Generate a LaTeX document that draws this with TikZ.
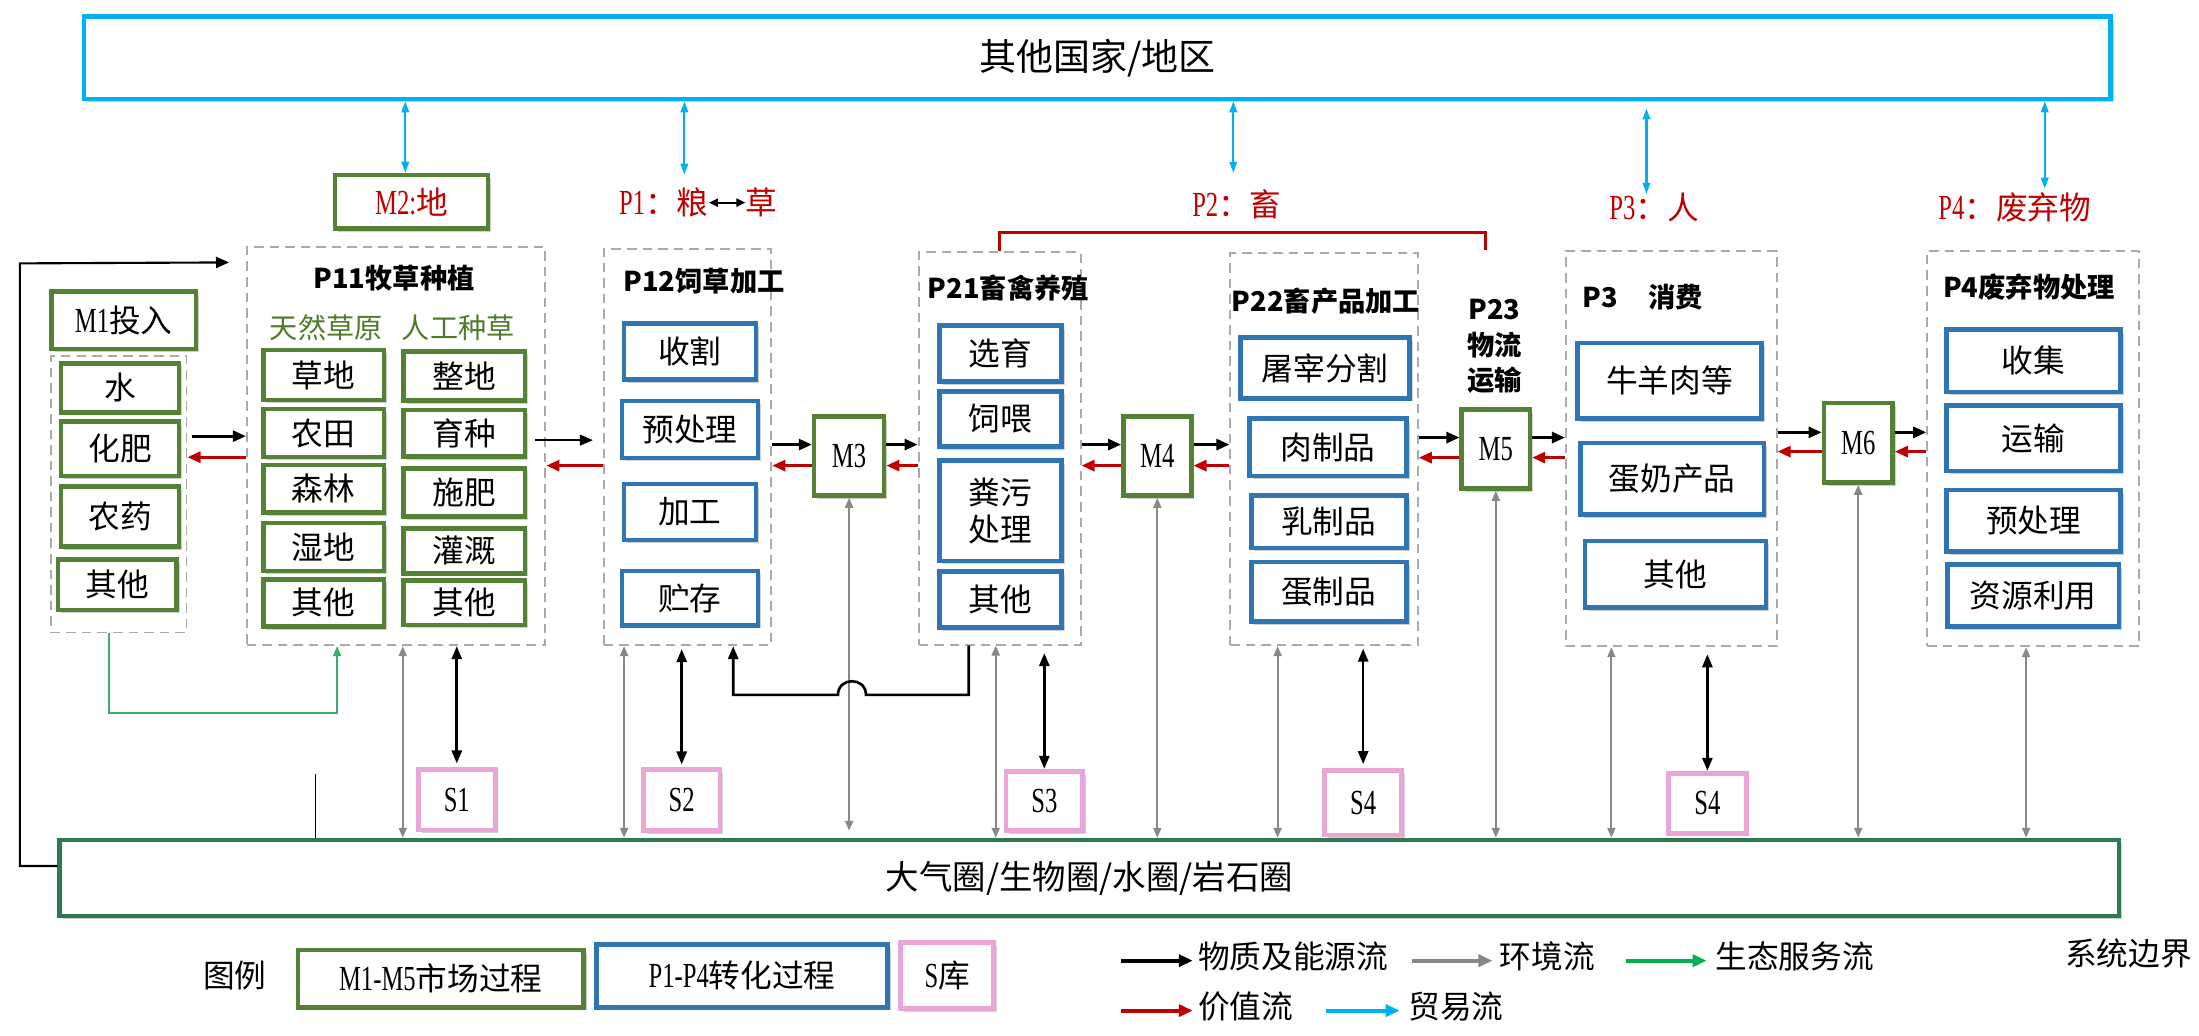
\documentclass[tikz,border=0pt]{standalone}
\usepackage{fontspec}
\setmainfont{Noto Sans CJK SC}
\newfontfamily\lat[FakeStretch=0.7]{Liberation Serif}
\usetikzlibrary{arrows.meta,fit,calc,shadows}
\definecolor{mgreen}{RGB}{84,130,53}
\definecolor{pblue}{RGB}{46,117,182}
\definecolor{spink}{RGB}{232,165,214}
\definecolor{tcyan}{RGB}{0,176,240}
\definecolor{vred}{RGB}{192,0,0}
\definecolor{egray}{RGB}{136,136,136}
\definecolor{dgray}{RGB}{170,170,170}
\definecolor{bgreen}{RGB}{46,122,80}
\definecolor{ecog}{RGB}{60,172,115}
\definecolor{leco}{RGB}{0,176,80}
\definecolor{tgreen}{RGB}{78,122,42}
\newcommand\itm{\fontsize{18pt}{21pt}\selectfont}
\newcommand\legf{\fontsize{18pt}{21pt}\selectfont}
\newcommand\ttl{\bfseries\fontsize{15.5pt}{20pt}\selectfont}
\newcommand\latn[1]{{\lat\fontsize{20pt}{22pt}\selectfont #1}}
% box by corners: style, name, x1, y1, x2, y2, text
\newcommand\bx[7]{\node[#1, minimum width={(#5-#3)*0.28mm}, minimum height={(#6-#4)*0.28mm}] (#2) at ({(#3+#5)/2},{(#4+#6)/2}) {#7};}
\begin{document}
\begin{tikzpicture}[x=0.28mm,y=-0.28mm,
  box/.style={inner sep=0pt, fill=white, line width=2.6pt, font=\itm, align=center,
    drop shadow={shadow xshift=1.8pt,shadow yshift=-1.8pt,opacity=0.3,fill=black!60}},
  gbox/.style={box,draw=mgreen},
  bbox/.style={box,draw=pblue},
  sbox/.style={box,draw=spink,line width=2.8pt},
  dbox/.style={inner sep=0pt,draw=dgray,line width=1.1pt,dash pattern=on 1.9mm off 1.2mm},
  ttlnode/.style={inner sep=0pt,font=\ttl,align=center},
  lbl/.style={inner sep=0pt,font=\itm},
  mat/.style={line width=1.6pt,-{Triangle[length=2.6mm,width=2.2mm]}},
  matthin/.style={line width=0.7pt,-{Triangle[length=2.6mm,width=2.2mm]}},
  val/.style={vred,line width=1.6pt,-{Triangle[length=2.6mm,width=2.2mm]}},
  env/.style={egray,line width=1.2pt,{Triangle[length=2mm,width=1.6mm]}-{Triangle[length=2mm,width=1.6mm]}},
  stor/.style={line width=1.5pt,{Triangle[length=2.6mm,width=2mm]}-{Triangle[length=2.6mm,width=2mm]}},
  trade/.style={tcyan,line width=1.2pt,{Triangle[length=2.2mm,width=1.5mm]}-{Triangle[length=2.2mm,width=1.5mm]}},
  eco/.style={ecog,line width=1pt,-{Triangle[length=2mm,width=1.6mm]}},
  leg/.style={line width=2.3pt,-{Triangle[length=2.8mm,width=2.4mm]}},
]
\fill[white] (0,0) rectangle (1568,738.7);
\useasboundingbox (0,0) rectangle (1568,738.7);

% top and bottom boxes
\bx{box, draw=tcyan, font=\fontsize{21pt}{24pt}\selectfont}{top}{60}{11.9}{1505}{70.6}{其他国家/地区}
\bx{box, draw=bgreen, font=\fontsize{19pt}{22pt}\selectfont}{big}{42.6}{599}{1511}{653}{大气圈/生物圈/水圈/岩石圈}

% dashed process boxes
\node[dbox, fit={(36.3,254) (133,451)}] (m1d) {};
\node[dbox, fit={(176,176.3) (388.9,460)}] (P11) {};
\node[dbox, fit={(430.4,177.5) (550,460)}] (P12) {};
\node[dbox, fit={(655,180) (770.5,459.6)}] (P21) {};
\node[dbox, fit={(877.3,180.7) (1011,460)}] (P22) {};
\node[dbox, fit={(1116.6,179) (1266.8,460.8)}] (P3) {};
\node[dbox, fit={(1374.2,179) (1525.3,460.8)}] (P4) {};

% labels above
\bx{gbox, text=vred}{M2}{239}{124.8}{348}{163}{\latn{M2:}地}
\node[lbl, anchor=east, text=vred] (P1a) at (505.5,144.5) {\latn{P1}：粮};
\node[lbl, anchor=west, text=vred] (P1b) at (531.5,144.5) {草};
\node[lbl, text=vred] (P2l) at (882,145.7) {\latn{P2}：畜};
\node[lbl, text=vred] (P3l) at (1179.5,148.2) {\latn{P3}：人};
\node[lbl, text=vred] (P4l) at (1436.7,148.2) {\latn{P4}：废弃物};

% M1
\bx{gbox}{M1}{36.8}{208}{139.7}{248.9}{\latn{M1}投入}
\bx{gbox}{w1}{43.6}{259}{127.7}{294}{水}
\bx{gbox}{w2}{43.6}{300.6}{127.7}{339.4}{化肥}
\bx{gbox}{w3}{43.6}{347}{127.7}{389.8}{农药}
\bx{gbox}{w4}{41.5}{399}{126}{435}{其他}

% P11
\node[ttlnode] (P11t) at (281,198) {P11牧草种植};
\node[lbl, text=tgreen, font=\fontsize{16pt}{19pt}\selectfont] (tr) at (232.6,234) {天然草原};
\node[lbl, text=tgreen, font=\fontsize{16pt}{19pt}\selectfont] (rg) at (326.7,234) {人工种草};
\bx{gbox}{a1}{187.7}{249.6}{273.7}{285.2}{草地}
\bx{gbox}{a2}{187.7}{291.7}{273.7}{325.8}{农田}
\bx{gbox}{a3}{187.7}{331.6}{273.7}{365.5}{森林}
\bx{gbox}{a4}{187.7}{373}{273.7}{407}{湿地}
\bx{gbox}{a5}{187.7}{413}{273.7}{446.8}{其他}
\bx{gbox}{b1}{287.9}{250.7}{374.4}{285.7}{整地}
\bx{gbox}{b2}{287.9}{292.3}{374.4}{325.6}{育种}
\bx{gbox}{b3}{287.9}{333.9}{374.4}{368.4}{施肥}
\bx{gbox}{b4}{287.9}{376.7}{374.4}{408.8}{灌溉}
\bx{gbox}{b5}{287.9}{414}{374.4}{445.6}{其他}

% P12
\node[ttlnode] (P12t) at (502,200.7) {P12饲草加工};
\bx{bbox}{c1}{445}{230.7}{539}{270.7}{收割}
\bx{bbox}{c2}{443.5}{285.8}{540.5}{326.5}{预处理}
\bx{bbox}{c3}{445}{345}{539}{385}{加工}
\bx{bbox}{c4}{443.5}{407}{540.5}{445.8}{贮存}

\bx{gbox}{M3}{580.5}{297}{630.4}{353.3}{\latn{M3}}

% P21
\node[ttlnode] (P21t) at (719,205.7) {P21畜禽养殖};
\bx{bbox}{d1}{670}{232}{756.8}{272}{选育}
\bx{bbox}{d2}{670}{279}{756.8}{318.3}{饲喂}
\bx{bbox}{d3}{670}{328.3}{756.8}{400}{粪污\\处理}
\bx{bbox}{d4}{670}{407.5}{756.8}{447.6}{其他}

\bx{gbox}{M4}{801}{297}{849.4}{353.3}{\latn{M4}}

% P22
\node[ttlnode] (P22t) at (945.5,214.5) {P22畜产品加工};
\bx{bbox}{e1}{884.6}{240.8}{1005}{284}{屠宰分割}
\bx{bbox}{e2}{890.9}{298.3}{1002.8}{339.5}{肉制品}
\bx{bbox}{e3}{892.2}{353.3}{1002.8}{390.8}{乳制品}
\bx{bbox}{e4}{892.2}{400.8}{1002.8}{443.3}{蛋制品}

\node[ttlnode] (P23t) at (1065.5,247) {P23\\物流\\运输};
\bx{gbox}{M5}{1042.3}{292}{1090.9}{348.3}{\latn{M5}}

% P3
\node[ttlnode, anchor=west] (P3t) at (1128.3,212) {P3\hspace{1.1em}消费};
\bx{bbox}{f1}{1124.8}{244.5}{1256}{298.3}{牛羊肉等}
\bx{bbox}{f2}{1126.9}{315.8}{1257.8}{367}{蛋奶产品}
\bx{bbox}{f3}{1130.2}{385.8}{1259.2}{433.3}{其他}

\bx{gbox}{M6}{1300.5}{287.5}{1349.5}{344}{\latn{M6}}

% P4
\node[ttlnode] (P4t) at (1446.8,204.5) {P4废弃物处理};
\bx{bbox}{h1}{1388}{235}{1512}{279.5}{收集}
\bx{bbox}{h2}{1388}{289}{1512}{335.8}{运输}
\bx{bbox}{h3}{1388}{349.5}{1512}{393.3}{预处理}
\bx{bbox}{h4}{1388.6}{402.6}{1511}{446.6}{资源利用}

% stores
\bx{sbox}{S1}{298.4}{549}{353}{591.8}{\latn{S1}}
\bx{sbox}{S2}{458.8}{549}{513.4}{592.3}{\latn{S2}}
\bx{sbox}{S3}{717.3}{550}{772}{592.3}{\latn{S3}}
\bx{sbox}{S4a}{944.7}{549.5}{999.3}{595.4}{\latn{S4}}
\bx{sbox}{S4b}{1189.9}{551.4}{1245}{594.1}{\latn{S4}}

% trade flows
\coordinate (cM2) at (289,0);
\coordinate (cP1) at (488,124.5);
\coordinate (cP2) at (879.4,123.2);
\coordinate (cP3) at (1174,138.2);
\coordinate (cP4) at (1458,134.5);
\draw[trade] (top.south -| cM2) -- (M2.north -| cM2);
\draw[trade] (top.south -| cP1) -- (cP1);
\draw[trade] (top.south -| cP2) -- (cP2);
\draw[trade, shorten <=1.4mm] (top.south -| cP3) -- (cP3);
\draw[trade] (top.south -| cP4) -- (cP4);
\draw[line width=1.2pt,{Triangle[length=1.8mm,width=1.6mm]}-{Triangle[length=1.8mm,width=1.6mm]}] (P1a.east) -- (P1b.west);

% red bracket P2
\coordinate (rtop) at (0,165.7);
\coordinate (rb) at (1059.5,178.2);
\draw[vred, line width=1.6pt] (P21.north) -- (P21.north |- rtop) -| (rb);

% horizontal flows
\coordinate (rA1) at (0,311);   \coordinate (rA2) at (0,326);
\coordinate (rB1) at (0,313.8); \coordinate (rB2) at (0,332);
\coordinate (rC1) at (0,317);   \coordinate (rC2) at (0,332);
\coordinate (rD1) at (0,312);   \coordinate (rD2) at (0,326.3);
\coordinate (rE1) at (0,308.3); \coordinate (rE2) at (0,322);
\draw[mat] ($(m1d.east |- rA1)+(3,0)$) -- (P11.west |- rA1);
\draw[val] (P11.west |- rA2) -- (m1d.east |- rA2);
\draw[matthin] ($(P11.east |- rB1)+(-8,0)$) -- ($(P12.west |- rB1)+(-7,0)$);
\draw[val] (P12.west |- rB2) -- (P11.east |- rB2);
\draw[mat] (P12.east |- rC1) -- (M3.west |- rC1);
\draw[val] (M3.west |- rC2) -- (P12.east |- rC2);
\draw[mat] (M3.east |- rC1) -- (P21.west |- rC1);
\draw[val] (P21.west |- rC2) -- (M3.east |- rC2);
\draw[mat] (P21.east |- rC1) -- (M4.west |- rC1);
\draw[val] (M4.west |- rC2) -- (P21.east |- rC2);
\draw[mat] (M4.east |- rC1) -- (P22.west |- rC1);
\draw[val] (P22.west |- rC2) -- (M4.east |- rC2);
\draw[mat] (P22.east |- rD1) -- (M5.west |- rD1);
\draw[val] (M5.west |- rD2) -- (P22.east |- rD2);
\draw[mat] (M5.east |- rD1) -- (P3.west |- rD1);
\draw[val] (P3.west |- rD2) -- (M5.east |- rD2);
\draw[mat] (P3.east |- rE1) -- (M6.west |- rE1);
\draw[val] (M6.west |- rE2) -- (P3.east |- rE2);
\draw[mat] (M6.east |- rE1) -- (P4.west |- rE1);
\draw[val] (P4.west |- rE2) -- (M6.east |- rE2);

% loop from the spheres to P11
\coordinate (L1) at (14.2,617.5);
\coordinate (L2) at (14.2,187.8);
\draw[line width=1.2pt,-{Triangle[length=2.6mm,width=2.2mm]}] ($(big.west)+(0,-8.5)$) -- (L1) -- (L2) -- ($(P11.north west)+(-12,11.5)$);

% ecosystem service flow
\coordinate (G1) at (240.4,508.6);
\draw[eco] ($(m1d.south)+(-7,0)$) |- (G1) -- (P11.south -| G1);

% thin line
\coordinate (T1) at (225,552);
\draw[line width=0.6pt] (T1) -- (big.north -| T1);

% environment flows
\coordinate (g11) at (287.2,0);
\coordinate (g12) at (445,0);
\coordinate (g21) at (710,0);
\coordinate (g22) at (911,0);
\coordinate (g3) at (1149,0);
\coordinate (g4) at (1444.7,0);
\draw[env] (P11.south -| g11) -- (big.north -| g11);
\draw[env] (P12.south -| g12) -- (big.north -| g12);
\draw[env, shorten >=1.4mm] (M3.south) -- (big.north -| M3.south);
\draw[env] (P21.south -| g21) -- (big.north -| g21);
\draw[env] (M4.south) -- (big.north -| M4.south);
\draw[env] (P22.south -| g22) -- (big.north -| g22);
\draw[env] (M5.south) -- (big.north -| M5.south);
\draw[env] (P3.south -| g3) -- (big.north -| g3);
\draw[env] (M6.south) -- (big.north -| M6.south);
\draw[env] (P4.south -| g4) -- (big.north -| g4);

% store flows
\draw[stor, shorten >=0.8mm] (P11.south -| S1.north) -- (S1.north);
\draw[stor, shorten <=0.6mm, shorten >=0.6mm] (P12.south -| S2.north) -- (S2.north);
\draw[stor, shorten <=1.5mm] (P21.south -| S3.north) -- (S3.north);
\draw[stor, shorten <=0.5mm, shorten >=0.8mm] (P22.south -| S4a.north) -- (S4a.north);
\draw[stor, shorten <=1.4mm] (P3.south -| S4b.north) -- (S4b.north);

% manure/feed return line with hop
\coordinate (cv1) at (690.8,495.5);
\coordinate (hopR) at (617.5,495.5);
\coordinate (hopL) at (597.5,495.5);
\coordinate (cv2) at (522.8,495.5);
\draw[line width=1.5pt,-{Triangle[length=2.6mm,width=2mm]}] (P21.south -| cv1) -- (cv1) -- (hopR) .. controls ($(hopR)+(0,-13)$) and ($(hopL)+(0,-13)$) .. (hopL) -- (cv2) -- (P12.south -| cv2);

% legend
\node[inner sep=0pt, font=\legf] (lg) at (167.4,695.9) {图例};
\bx{gbox, font=\legf}{lgM}{212.6}{677.4}{416}{718.2}{\latn{M1-M5}市场过程}
\bx{bbox, font=\legf}{lgP}{425.4}{673.3}{633}{718.2}{\latn{P1-P4}转化过程}
\bx{sbox, font=\legf}{lgS}{642.3}{672.1}{708.6}{719}{\latn{S}库}
\coordinate (la1) at (799.5,685);   \coordinate (la2) at (850.5,685);
\coordinate (lb1) at (1006.7,685);  \coordinate (lb2) at (1064.2,685);
\coordinate (lc1) at (1159.3,685);  \coordinate (lc2) at (1216.9,685);
\coordinate (ld1) at (799.5,720.6); \coordinate (ld2) at (850.5,720.6);
\coordinate (le1) at (945.6,720.6); \coordinate (le2) at (998,720.6);
\draw[leg] (la1) -- (la2);
\draw[leg, egray] (lb1) -- (lb2);
\draw[leg, leco] (lc1) -- (lc2);
\draw[leg, vred] (ld1) -- (ld2);
\draw[leg, tcyan] (le1) -- (le2);
\node[inner sep=0pt, anchor=west, font=\legf] (lta) at (854,682) {物质及能源流};
\node[inner sep=0pt, anchor=west, font=\legf] (ltb) at (1069.3,682) {环境流};
\node[inner sep=0pt, anchor=west, font=\legf] (ltc) at (1223,682) {生态服务流};
\node[inner sep=0pt, anchor=west, font=\legf] (ltd) at (854,718) {价值流};
\node[inner sep=0pt, anchor=west, font=\legf] (lte) at (1004,718) {贸易流};
\node[inner sep=0pt, anchor=west, font=\legf] (ltf) at (1472.3,679.7) {系统边界};
\end{tikzpicture}
\end{document}
